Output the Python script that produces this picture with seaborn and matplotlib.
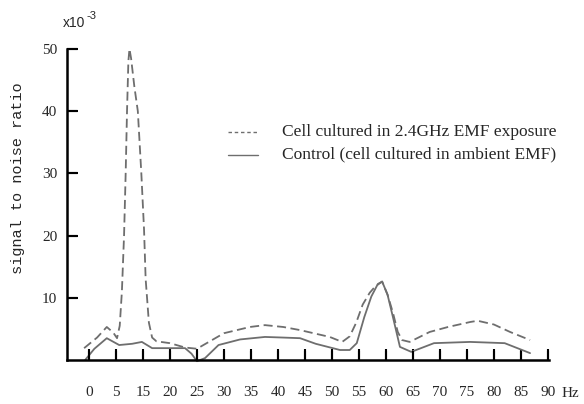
import matplotlib
matplotlib.use('Agg')
import matplotlib.pyplot as plt
import pandas as pd
import seaborn as sns

# x positions in axis units (one tick every 5 units), y in units of 1e-3
tick_pos = [0, 5, 10, 15, 20, 25, 30, 35, 40, 45, 50, 55, 60, 65, 70, 75, 80, 85]
tick_labels = ['0', '5', '15', '20', '25', '30', '35', '40', '45', '50',
               '55', '60', '65', '70', '75', '80', '85', '90']
y_ticks = [10, 20, 30, 40, 50]

exp_x = [-0.9, 1.5, 3.3, 4.5, 5.2, 5.7, 6.1, 6.5, 6.8, 7.05, 7.3, 7.5, 7.8, 8.4,
         9.05, 9.7, 10.2, 10.5, 11.1, 11.7, 12.5, 15, 17.8, 20, 22, 25, 29.8,
         32.6, 36, 39.1, 44.6, 46.9, 48.3, 49.5, 50.7, 52, 53, 54.3, 55.3, 56.3,
         57.2, 58, 59.4, 63.1, 66.5, 70.6, 72, 75, 78, 81.7]
exp_y = [1.9, 3.6, 5.3, 4.4, 3.5, 5.5, 11, 20, 30, 40, 48, 50, 48.5, 44,
         40, 30, 21, 13, 6, 3.6, 3.0, 2.7, 2.0, 1.8, 2.8, 4.3, 5.3,
         5.6, 5.3, 4.8, 3.7, 2.9, 3.8, 6, 8.9, 10.8, 11.8, 12.6, 10.5, 7.6,
         4.5, 3.2, 2.9, 4.5, 5.3, 6.1, 6.3, 5.7, 4.5, 3.2]

ctl_x = [-0.7, 1, 3.3, 5.6, 8, 9.8, 11.7, 17.8, 19, 20, 21.5, 24, 28, 32.6,
         36, 39.1, 42, 46.5, 48.3, 49.6, 50.2, 51, 52.3, 53.5, 54.3, 55.3,
         56.3, 57.6, 59.7, 63.9, 70.6, 77, 81.7]
ctl_y = [0, 1.8, 3.5, 2.4, 2.6, 2.9, 1.9, 1.9, 1.0, -0.2, 0.3, 2.4, 3.3, 3.7,
         3.6, 3.5, 2.6, 1.6, 1.6, 2.7, 4.5, 6.9, 10.2, 12.2, 12.6, 10.5,
         6.9, 2.1, 1.3, 2.7, 2.9, 2.7, 1.1]

sns.set_style('ticks')
plt.rcParams['font.family'] = ['Liberation Serif', 'DejaVu Serif']

fig = plt.figure(figsize=(5.84, 4.04), dpi=100)
ax = fig.add_axes([0.1147, 0.109, 0.8253, 0.770])

df_exp = pd.DataFrame({'x': exp_x, 'y': exp_y})
df_ctl = pd.DataFrame({'x': ctl_x, 'y': ctl_y})

sns.lineplot(data=df_exp, x='x', y='y', ax=ax, color='#6e6e6e', lw=1.3,
             sort=False, estimator=None, clip_on=False,
             linestyle=(0, (5, 2.5)))
sns.lineplot(data=df_ctl, x='x', y='y', ax=ax, color='#6e6e6e', lw=1.3,
             sort=False, estimator=None, clip_on=False)

ax.set_xlim(-4.07, 85.2)
ax.set_ylim(0, 50)
ax.set_xticks(tick_pos, tick_labels)
ax.set_yticks(y_ticks, [str(v) for v in y_ticks])
ax.set_xlabel('')
ax.set_ylabel('')

for s in ['top', 'right']:
    ax.spines[s].set_visible(False)
for s in ['left', 'bottom']:
    ax.spines[s].set_linewidth(1.8)
    ax.spines[s].set_color('black')

ax.tick_params(axis='x', direction='in', length=8, width=1.5, color='black',
               pad=19, labelsize=11)
ax.tick_params(axis='y', direction='in', length=8, width=1.5, color='black',
               pad=7, labelsize=11)

# inward tick marks drawn on top as well
ax.vlines(tick_pos, 0, 1.5, color='black', lw=1.5, clip_on=False, zorder=10)
ax.hlines(y_ticks, -4.07, -2.3, color='black', lw=1.5, clip_on=False,
          zorder=10)

# legend drawn by hand
ax.plot([25.7, 31.3], [36.6, 36.6], color='#6e6e6e', lw=1.0,
        linestyle=(0, (2.5, 2)))
ax.plot([25.7, 31.3], [33.0, 33.0], color='#6e6e6e', lw=1.0)
ax.text(35.8, 36.6, 'Cell cultured in 2.4GHz EMF exposure', fontsize=12.5,
        va='center', ha='left')
ax.text(35.8, 33.0, 'Control (cell cultured in ambient EMF)', fontsize=12.5,
        va='center', ha='left')

fig.text(0.976, 0.027, 'Hz', fontsize=11, ha='center', va='center')
fig.text(0.031, 0.56, 'signal to noise ratio', fontsize=11, rotation=90,
         ha='center', va='center', family='Liberation Mono')
fig.text(0.107, 0.942, 'x10', fontsize=10, ha='left', va='center',
         family='Liberation Sans')
fig.text(0.148, 0.960, '-3', fontsize=8, ha='left', va='center',
         family='Liberation Sans')

fig.savefig('out.png', dpi=100)
